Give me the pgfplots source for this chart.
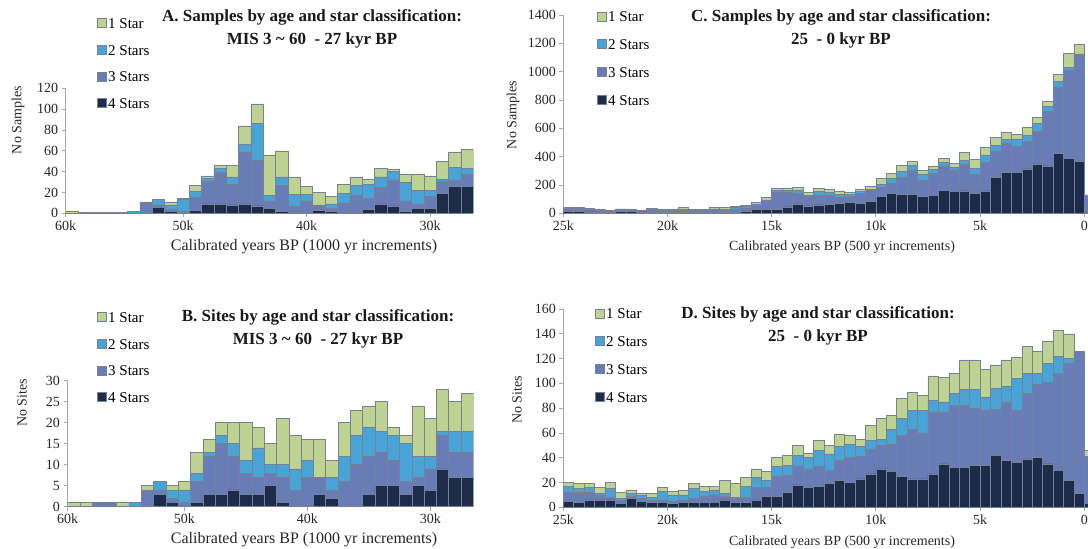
\documentclass[border=0pt]{standalone}
\usepackage{fontspec}
\setmainfont{Liberation Serif}
\usepackage{pgfplots}
\pgfplotsset{compat=1.18}
\usepackage{pgfplotstable}

\definecolor{sone}{RGB}{190,211,146}
\definecolor{stwo}{RGB}{72,164,214}
\definecolor{sthree}{RGB}{104,124,184}
\definecolor{sfour}{RGB}{30,44,76}
\definecolor{edge}{RGB}{120,128,148}
\definecolor{axcol}{RGB}{165,165,165}

% x = bar centre (bar index + 0.5); s4 = 4 Stars, s3 = 3 Stars, s2 = 2 Stars, s1 = 1 Star
\pgfplotstableread{
x s4 s3 s2 s1
0.5 0 0 0 2
1.5 0 1 0 0
2.5 0 1 0 0
3.5 0 1 0 0
4.5 0 0 0 1
5.5 0 0 2 0
6.5 1 9 1 0
7.5 6 2 5 0
8.5 2 2 4 3
9.5 1 1 11 1
10.5 3 12 6 6
11.5 9 22 3 2
12.5 9 30 4 3
13.5 8 20 7 11
14.5 9 50 7 18
15.5 7 44 35 19
16.5 5 7 5 39
17.5 2 25 8 25
18.5 0 7 11 17
19.5 0 12 6 8
20.5 3 4 1 12
21.5 2 3 4 7
22.5 0 10 9 9
23.5 0 17 10 8
24.5 4 10 14 5
25.5 9 16 10 8
26.5 7 25 8 2
27.5 2 10 18 7
28.5 5 4 13 15
29.5 5 11 6 14
30.5 19 12 2 17
31.5 26 6 12 15
32.5 26 11 6 18
}\tabA

\pgfplotstableread{
x s4 s3 s2 s1
0.5 0 0 0 1
1.5 0 0 0 1
2.5 0 1 0 0
3.5 0 1 0 0
4.5 0 0 0 1
5.5 0 0 1 0
6.5 0 4 0 1
7.5 3 1 2 0
8.5 1 1 2 1
9.5 0 1 3 2
10.5 1 5 2 5
11.5 3 9 1 3
12.5 3 12 2 3
13.5 4 8 3 5
14.5 3 5 3 9
15.5 3 4 7 5
16.5 5 3 2 5
17.5 1 6 3 11
18.5 0 4 5 8
19.5 0 7 4 5
20.5 3 4 0 9
21.5 2 2 3 4
22.5 0 6 6 8
23.5 0 10 7 6
24.5 3 9 7 5
25.5 5 8 5 7
26.5 5 6 6 2
27.5 3 3 9 2
28.5 5 2 5 12
29.5 4 5 3 9
30.5 9 8 1 10
31.5 7 6 5 7
32.5 7 6 5 9
}\tabB

\pgfplotstableread{
x s4 s3 s2 s1
0.5 15 20 3 2
1.5 12 22 4 2
2.5 10 20 3 2
3.5 8 14 2 1
4.5 8 14 1 1
5.5 14 15 2 1
6.5 14 14 2 2
7.5 10 12 1 1
8.5 8 14 10 2
9.5 6 10 8 2
10.5 8 12 4 4
11.5 8 16 6 12
12.5 6 14 3 5
13.5 6 16 2 4
14.5 8 18 6 14
15.5 6 14 8 12
16.5 8 20 12 7
17.5 12 25 13 10
18.5 25 33 8 12
19.5 30 55 10 15
20.5 30 116 14 20
21.5 45 100 15 20
22.5 66 75 19 21
23.5 52 66 11 17
24.5 59 70 24 21
25.5 64 65 19 21
26.5 71 42 21 24
27.5 75 43 18 10
28.5 71 70 12 16
29.5 82 78 9 24
30.5 118 66 21 42
31.5 141 71 35 35
32.5 134 118 42 42
33.5 134 172 35 28
34.5 122 113 43 23
35.5 129 153 29 23
36.5 160 169 29 30
37.5 153 148 21 31
38.5 158 188 30 55
39.5 141 137 40 63
40.5 158 202 52 54
41.5 254 186 42 52
42.5 289 205 28 47
43.5 287 188 50 33
44.5 313 193 42 59
45.5 348 228 59 43
46.5 334 384 35 35
47.5 424 465 40 52
48.5 388 624 16 101
49.5 369 756 0 70
50.5 0 130 0 0
}\tabC

\pgfplotstableread{
x s4 s3 s2 s1
0.5 5 7 5 3
1.5 4 8 3 4
2.5 6 6 4 3
3.5 6 4 1 5
4.5 6 2 7 5
5.5 3 3 1 5
6.5 7 2 2 3
7.5 5 2 3 1
8.5 4 2 2 3
9.5 4 2 7 3
10.5 3 2 5 3
11.5 4 2 4 4
12.5 4 3 8 4
13.5 4 5 4 4
14.5 4 6 4 3
15.5 6 3 2 11
16.5 4 3 1 11
17.5 4 4 9 7
18.5 6 10 8 7
19.5 9 7 6 7
20.5 9 16 8 7
21.5 12 14 8 8
22.5 18 15 9 8
23.5 16 15 9 4
24.5 17 16 13 8
25.5 19 11 13 7
26.5 22 16 11 10
27.5 20 20 11 7
28.5 23 18 8 6
29.5 27 20 7 12
30.5 31 19 5 17
31.5 29 22 12 11
32.5 25 33 14 16
33.5 23 40 15 15
34.5 23 37 18 12
35.5 27 50 9 20
36.5 35 42 8 20
37.5 32 50 10 16
38.5 32 50 13 24
39.5 34 46 15 24
40.5 34 44 11 22
41.5 42 37 17 19
42.5 38 47 13 21
43.5 36 42 26 17
44.5 39 53 16 22
45.5 40 59 9 18
46.5 35 66 15 18
47.5 30 78 14 21
48.5 22 94 4 20
49.5 11 115 0 0
50.5 3 38 0 5
}\tabD

\pgfplotsset{
  histo/.style={
    scale only axis, ybar stacked, bar width=1, ymin=0,
    enlargelimits=false,
    axis x line*=bottom, axis y line*=left,
    axis line style={axcol, line width=0.8bp},
    tick style={axcol, line width=0.8bp},
    major tick length=4bp,
    tick align=outside,
    ticklabel style={font=\fontsize{14bp}{16bp}\selectfont, text=black!85},
    /pgf/number format/assume math mode=true,
    /pgf/number format/1000 sep={},
    legend cell align=left,
    legend image code/.code={\draw[##1] (0bp,-4.5bp) rectangle (9bp,4.5bp);},
    legend style={draw=none, fill=none, inner sep=0pt, anchor=north west,
      font=\fontsize{15bp}{17bp}\selectfont,
      nodes={inner sep=1.5bp, text height=11bp, text depth=0bp}},
    reverse legend,
  },
  sa/.style={fill=sone, draw=edge, line width=0.5bp},
  sb/.style={fill=stwo, draw=edge, line width=0.5bp},
  sc/.style={fill=sthree, draw=edge, line width=0.5bp},
  sd/.style={fill=sfour, draw=edge, line width=0.5bp},
}

\newcommand{\fourseries}[1]{%
  \addplot[sd] table[x=x,y=s4]{#1}; \addlegendentry{4 Stars}
  \addplot[sc] table[x=x,y=s3]{#1}; \addlegendentry{3 Stars}
  \addplot[sb] table[x=x,y=s2]{#1}; \addlegendentry{2 Stars}
  \addplot[sa] table[x=x,y=s1]{#1}; \addlegendentry{1 Star}
}

\begin{document}
\begin{tikzpicture}[x=1bp,y=1bp]
\useasboundingbox (0,0) rectangle (1088,549);

% ---------- A ----------
\begin{axis}[histo, at={(65.7bp,335.7bp)}, anchor=south west,
  width=407.6bp, height=125bp, xmin=0, xmax=33, ymax=120,
  ytick={0,20,...,120},
  xtick={0,9.5,19.5,29.5}, xticklabels={60k,50k,40k,30k},
  legend style={at={(0.0768,1.582)}, row sep=12.8bp}]
\fourseries{\tabA}
\end{axis}

% ---------- B ----------
\begin{axis}[histo, at={(67.5bp,42.3bp)}, anchor=south west,
  width=405.8bp, height=126bp, xmin=0, xmax=33, ymax=30,
  ytick={0,5,...,30},
  xtick={0,9.5,19.5,29.5}, xticklabels={60k,50k,40k,30k},
  legend style={at={(0.0727,1.565)}, row sep=12.8bp}]
\fourseries{\tabB}
\end{axis}

% ---------- C ----------
\begin{axis}[histo, at={(563.3bp,335.7bp)}, anchor=south west,
  width=524.7bp, height=198.3bp, xmin=0, xmax=50.36, ymax=1400,
  ytick={0,200,...,1400},
  xtick={0,10,20,30,40,50}, xticklabels={25k,20k,15k,10k,5k,0},
  legend style={at={(0.0642,1.029)}, row sep=13.8bp}]
\fourseries{\tabC}
\end{axis}

% ---------- D ----------
\begin{axis}[histo, at={(563.3bp,41.7bp)}, anchor=south west,
  width=524.7bp, height=198.3bp, xmin=0, xmax=50.36, ymax=160,
  ytick={0,20,...,160},
  xtick={0,10,20,30,40,50}, xticklabels={25k,20k,15k,10k,5k,0},
  legend style={at={(0.0604,1.014)}, row sep=13.8bp}]
\fourseries{\tabD}
\end{axis}

% ---------- titles ----------
\tikzset{ttl/.style={font=\fontsize{17bp}{23bp}\selectfont\bfseries, align=center, text=black!90}}
\node[ttl] at (312,520.5) {A. Samples by age and star classification:\\MIS 3 \textasciitilde{} 60\ \ - 27 kyr BP};
\node[ttl] at (841,520.5) {C. Samples by age and star classification:\\25\ \ - 0 kyr BP};
\node[ttl] at (318,220) {B. Sites by age and star classification:\\MIS 3 \textasciitilde{} 60\ \ - 27 kyr BP};
\node[ttl] at (818,223) {D. Sites by age and star classification:\\25\ \ - 0 kyr BP};

% ---------- axis labels ----------
\tikzset{lbl/.style={font=\fontsize{14bp}{16bp}\selectfont, text=black!85}}
\tikzset{lblw/.style={font=\fontsize{16bp}{18bp}\selectfont, text=black!85}}
\node[lbl, rotate=90] at (18,429) {No Samples};
\node[lbl, rotate=90] at (513,434) {No Samples};
\node[lbl, rotate=90] at (22,146) {No Sites};
\node[lbl, rotate=90] at (517,149) {No Sites};
\node[lblw] at (304,302) {Calibrated years BP (1000 yr increments)};
\node[lblw] at (304,9) {Calibrated years BP (1000 yr increments)};
\node[lbl] at (842,302) {Calibrated years BP (500 yr increments)};
\node[lbl] at (842,7) {Calibrated years BP (500 yr increments)};
\end{tikzpicture}
\end{document}
